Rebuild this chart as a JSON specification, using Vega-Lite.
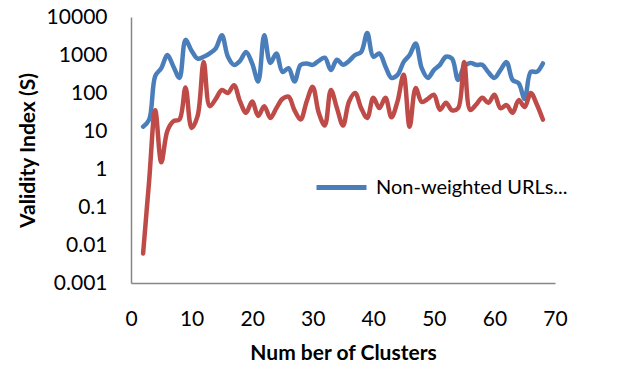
{
  "$schema": "https://vega.github.io/schema/vega-lite/v6.json",
  "autosize": "none",
  "width": 424,
  "height": 266,
  "padding": {"left": 131, "top": 17, "right": 73, "bottom": 89},
  "background": "white",
  "config": {"view": {"stroke": null}, "font": "Lato"},
  "datasets": {
    "blue": [
      {"k": 2, "v": 13}, {"k": 3, "v": 20}, {"k": 4, "v": 280}, {"k": 5, "v": 450}, {"k": 6, "v": 1000},
      {"k": 7, "v": 500}, {"k": 8, "v": 250}, {"k": 9, "v": 2500}, {"k": 10, "v": 1300}, {"k": 11, "v": 800},
      {"k": 12, "v": 900}, {"k": 13, "v": 1100}, {"k": 14, "v": 1500}, {"k": 15, "v": 3300}, {"k": 16, "v": 900},
      {"k": 17, "v": 550}, {"k": 18, "v": 700}, {"k": 19, "v": 1200}, {"k": 20, "v": 600}, {"k": 21, "v": 200},
      {"k": 22, "v": 3300}, {"k": 23, "v": 620}, {"k": 24, "v": 1100}, {"k": 25, "v": 360}, {"k": 26, "v": 450},
      {"k": 27, "v": 200}, {"k": 28, "v": 550}, {"k": 29, "v": 600}, {"k": 30, "v": 550}, {"k": 31, "v": 700},
      {"k": 32, "v": 850}, {"k": 33, "v": 400}, {"k": 34, "v": 750}, {"k": 35, "v": 550}, {"k": 36, "v": 700},
      {"k": 37, "v": 1000}, {"k": 38, "v": 1200}, {"k": 39, "v": 3800}, {"k": 40, "v": 900}, {"k": 41, "v": 1100},
      {"k": 42, "v": 500}, {"k": 43, "v": 250}, {"k": 44, "v": 300}, {"k": 45, "v": 650}, {"k": 46, "v": 1000},
      {"k": 47, "v": 2000}, {"k": 48, "v": 450}, {"k": 49, "v": 250}, {"k": 50, "v": 400}, {"k": 51, "v": 550},
      {"k": 52, "v": 900}, {"k": 53, "v": 800}, {"k": 54, "v": 220}, {"k": 55, "v": 500}, {"k": 56, "v": 620},
      {"k": 57, "v": 550}, {"k": 58, "v": 550}, {"k": 59, "v": 350}, {"k": 60, "v": 250}, {"k": 61, "v": 400},
      {"k": 62, "v": 650}, {"k": 63, "v": 220}, {"k": 64, "v": 180}, {"k": 65, "v": 70}, {"k": 66, "v": 360},
      {"k": 67, "v": 360}, {"k": 68, "v": 600}
    ],
    "red": [
      {"k": 2, "v": 0.006}, {"k": 3, "v": 0.5}, {"k": 4, "v": 35}, {"k": 5, "v": 1.5}, {"k": 6, "v": 10},
      {"k": 7, "v": 18}, {"k": 8, "v": 20}, {"k": 9, "v": 140}, {"k": 10, "v": 12}, {"k": 11, "v": 25},
      {"k": 12, "v": 650}, {"k": 13, "v": 45}, {"k": 14, "v": 70}, {"k": 15, "v": 120}, {"k": 16, "v": 100},
      {"k": 17, "v": 160}, {"k": 18, "v": 60}, {"k": 19, "v": 30}, {"k": 20, "v": 60}, {"k": 21, "v": 25},
      {"k": 22, "v": 45}, {"k": 23, "v": 22}, {"k": 24, "v": 40}, {"k": 25, "v": 70}, {"k": 26, "v": 80},
      {"k": 27, "v": 35}, {"k": 28, "v": 20}, {"k": 29, "v": 60}, {"k": 30, "v": 145}, {"k": 31, "v": 30},
      {"k": 32, "v": 14}, {"k": 33, "v": 120}, {"k": 34, "v": 40}, {"k": 35, "v": 14}, {"k": 36, "v": 60},
      {"k": 37, "v": 100}, {"k": 38, "v": 40}, {"k": 39, "v": 22}, {"k": 40, "v": 75}, {"k": 41, "v": 40},
      {"k": 42, "v": 75}, {"k": 43, "v": 23}, {"k": 44, "v": 60}, {"k": 45, "v": 300}, {"k": 46, "v": 13},
      {"k": 47, "v": 135}, {"k": 48, "v": 58}, {"k": 49, "v": 70}, {"k": 50, "v": 90}, {"k": 51, "v": 36},
      {"k": 52, "v": 55}, {"k": 53, "v": 35}, {"k": 54, "v": 40}, {"k": 55, "v": 650}, {"k": 56, "v": 36},
      {"k": 57, "v": 50}, {"k": 58, "v": 75}, {"k": 59, "v": 55}, {"k": 60, "v": 90}, {"k": 61, "v": 40},
      {"k": 62, "v": 48}, {"k": 63, "v": 30}, {"k": 64, "v": 65}, {"k": 65, "v": 43}, {"k": 66, "v": 100},
      {"k": 67, "v": 50}, {"k": 68, "v": 20}
    ]
  },
  "encoding": {
    "x": {
      "field": "k", "type": "quantitative",
      "scale": {"domain": [0, 70], "nice": false, "zero": false},
      "axis": {
        "title": "Num ber of Clusters",
        "values": [0, 10, 20, 30, 40, 50, 60, 70],
        "grid": false, "ticks": false, "tickSize": 0,
        "domainColor": "#868686", "domainWidth": 1.5,
        "labelFont": "Lato", "labelFontSize": 21, "labelColor": "#000000", "labelPadding": 25,
        "labelFlush": false,
        "titleFont": "Lato", "titleFontSize": 21, "titleFontWeight": "bold", "titleColor": "#000000", "titlePadding": 13
      }
    },
    "y": {
      "field": "v", "type": "quantitative",
      "scale": {"type": "log", "domain": [0.001, 10000], "nice": false},
      "axis": {
        "title": "Validity Index (S)",
        "values": [0.001, 0.01, 0.1, 1, 10, 100, 1000, 10000],
        "labelExpr": "datum.value >= 1 ? format(datum.value, 'd') : format(datum.value, '.3~f')",
        "grid": false, "ticks": false, "tickSize": 0,
        "domainColor": "#868686", "domainWidth": 1.5,
        "labelFont": "Lato", "labelFontSize": 21, "labelColor": "#000000", "labelPadding": 24,
        "labelFlush": false,
        "titleFont": "Lato", "titleFontSize": 21, "titleFontWeight": "bold", "titleColor": "#000000", "titlePadding": 8
      }
    }
  },
  "layer": [
    {
      "data": {"name": "blue"},
      "transform": [{"calculate": "'Non-weighted URLs'", "as": "series"}],
      "mark": {"type": "line", "interpolate": "catmull-rom", "strokeWidth": 4.5, "strokeCap": "round", "strokeJoin": "round"},
      "encoding": {
        "color": {
          "field": "series", "type": "nominal",
          "scale": {"domain": ["Non-weighted URLs"], "range": ["#4A7EBB"]},
          "legend": {
            "title": null, "orient": "none", "legendX": 183, "legendY": 143,
            "symbolType": "stroke", "symbolSize": 2500, "symbolStrokeWidth": 5,
            "labelFont": "Lato", "labelFontSize": 20, "labelColor": "#000000", "labelOffset": 7,
            "labelLimit": 300,
            "labelExpr": "datum.label + '...'"
          }
        }
      }
    },
    {
      "data": {"name": "red"},
      "mark": {"type": "line", "interpolate": "catmull-rom", "strokeWidth": 4.5, "strokeCap": "round", "strokeJoin": "round", "color": "#BE4B48"},
      "encoding": {}
    }
  ]
}
